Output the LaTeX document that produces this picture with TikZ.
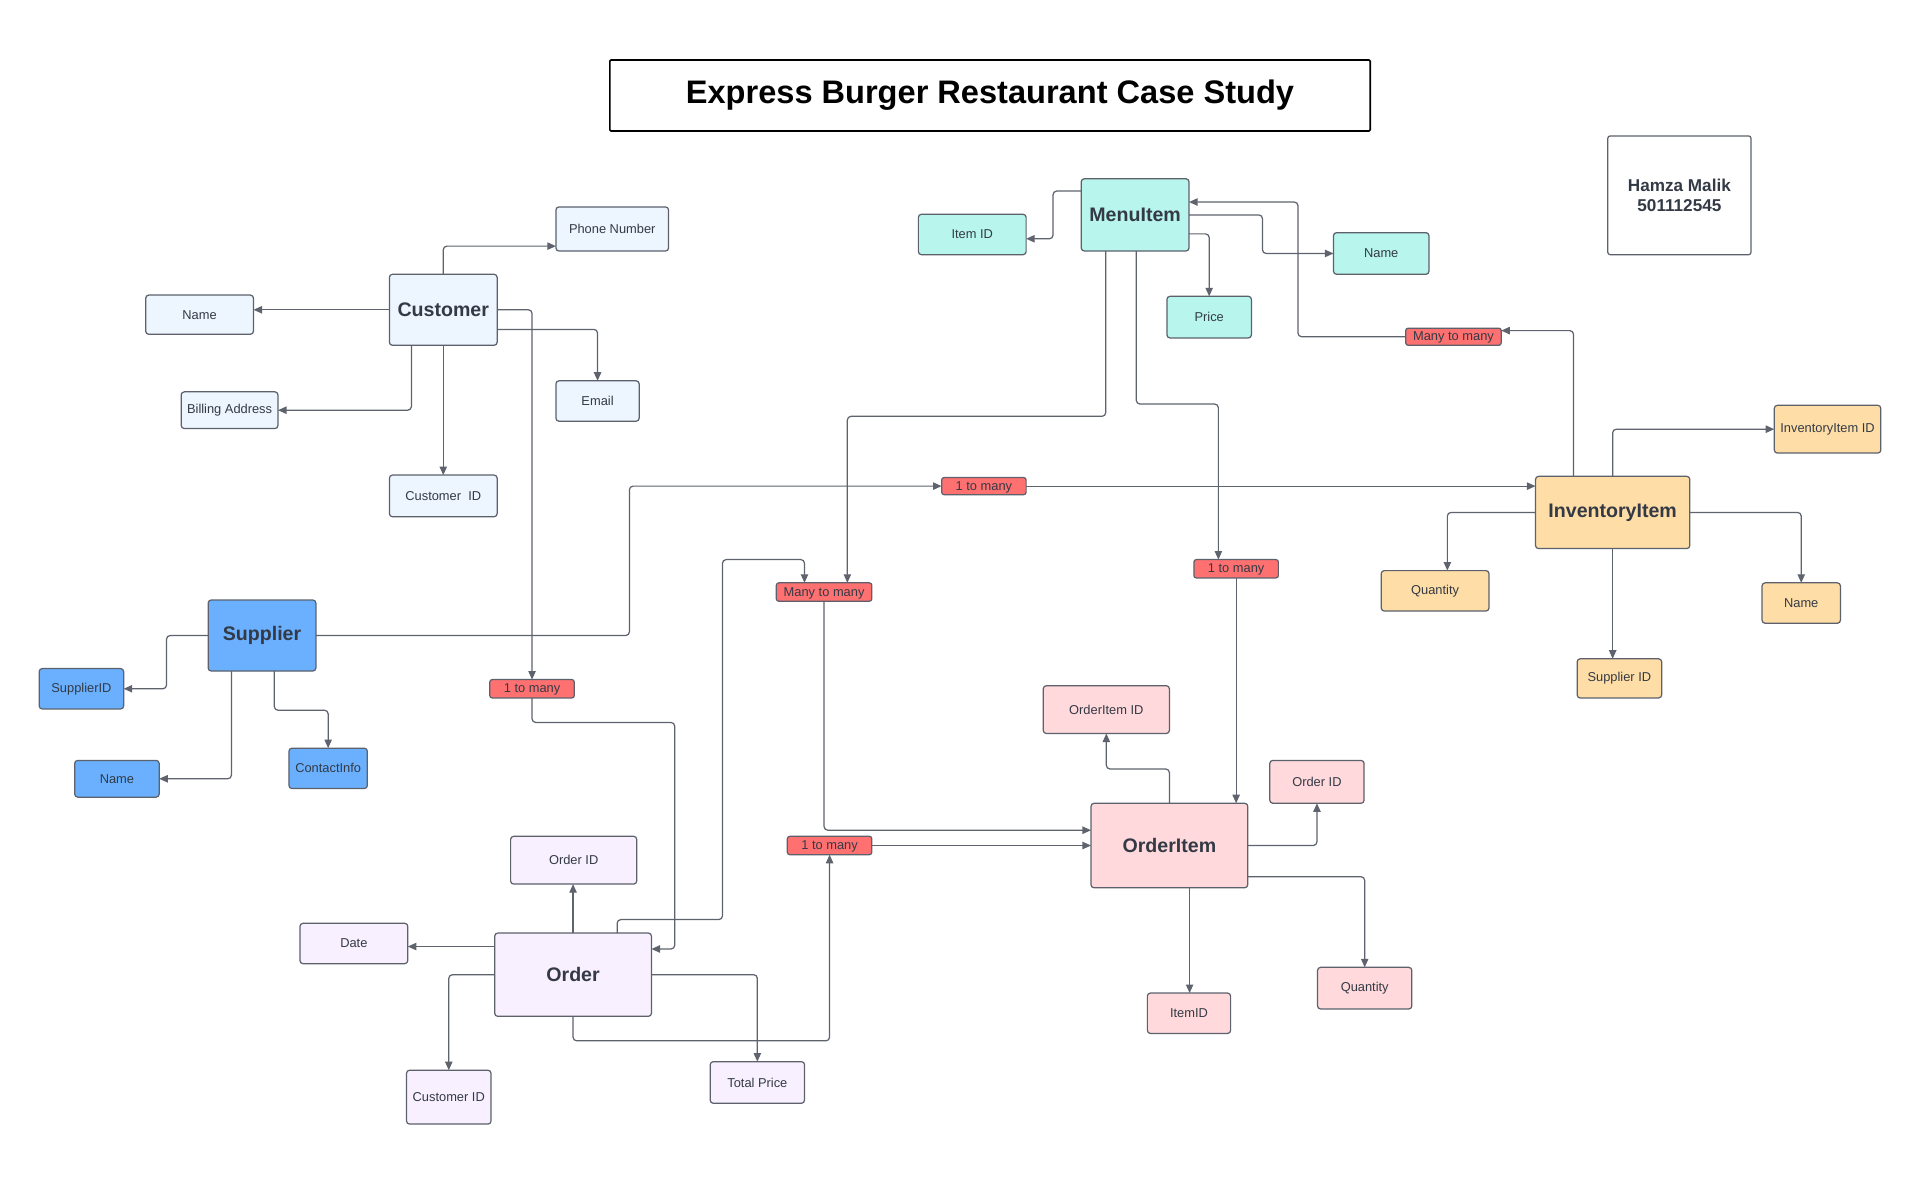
\documentclass[tikz,border=0pt]{standalone}
\usepackage{fontspec}
\setmainfont{Liberation Sans}
\usetikzlibrary{arrows.meta,calc}
\definecolor{txt}{HTML}{333A45}
\definecolor{bd}{HTML}{5C616C}
\definecolor{ln}{HTML}{5E636E}
\definecolor{cblue}{HTML}{EDF5FF}
\definecolor{mint}{HTML}{B8F5ED}
\definecolor{orng}{HTML}{FFDDA6}
\definecolor{sblue}{HTML}{6AB0FF}
\definecolor{pinkf}{HTML}{FFD9DC}
\definecolor{lav}{HTML}{F9F0FF}
\definecolor{relf}{HTML}{FF7070}
\tikzset{
 base/.style={draw=bd, line width=1pt, rounded corners=2.5pt, inner sep=0pt, outer sep=0pt, text=txt, align=center},
 attr/.style={base, font=\fontsize{10.5}{12.5}\selectfont},
 ent/.style={base, font=\fontsize{16}{19}\selectfont\bfseries},
 relbox/.style={base, fill=relf, font=\fontsize{10.5}{12}\selectfont, rounded corners=2pt, text height=7.6pt, text depth=0.8pt},
 conn/.style={draw=ln, line width=1pt, rounded corners=3pt, -{Triangle[length=7pt,width=6pt]}},
}
\newcommand\ebox[7]{\node[#6, minimum width={#4*1pt}, minimum height={#5*1pt}] (#1) at (#2,#3) {#7};}
\begin{document}
\begin{tikzpicture}[x=1pt,y=-1pt]
\useasboundingbox[fill=white] (0,0) rectangle (1568,973.5);
% title and author
\node[draw=black, line width=1.3pt, rounded corners=1pt, minimum width=621pt, minimum height=58pt, inner sep=0pt, font=\fontsize{26.6}{30}\selectfont\bfseries] (title) at (808.5,78) {Express Burger Restaurant Case Study};
\node[draw=bd, line width=1pt, rounded corners=2pt, minimum width=117pt, minimum height=97pt, inner sep=0pt, text=txt, align=center, font=\fontsize{14}{17}\selectfont\bfseries] (author) at (1371.5,159.5) {Hamza Malik\\501112545};
% Customer
\ebox{cust}{362}{253}{88}{58}{ent,fill=cblue}{Customer}
\ebox{phone}{500}{187}{92}{36}{attr,fill=cblue}{Phone Number}
\ebox{cname}{163}{257}{88}{32}{attr,fill=cblue}{Name}
\ebox{billing}{187.5}{335}{79}{30}{attr,fill=cblue}{Billing Address}
\ebox{email}{488}{327.5}{68}{33}{attr,fill=cblue}{Email}
\ebox{custid}{362}{405}{88}{34}{attr,fill=cblue}{Customer\ \ ID}
% MenuItem
\ebox{menu}{927}{175.5}{88}{59}{ent,fill=mint}{MenuItem}
\ebox{itemid}{794}{191.5}{88}{33}{attr,fill=mint}{Item ID}
\ebox{mname}{1128}{207}{78}{34}{attr,fill=mint}{Name}
\ebox{price}{987.5}{259}{69}{34}{attr,fill=mint}{Price}
% InventoryItem
\ebox{inv}{1317}{418.5}{126}{59}{ent,fill=orng}{InventoryItem}
\ebox{invid}{1492.5}{350.5}{87}{39}{attr,fill=orng}{InventoryItem ID}
\ebox{iqty}{1172}{482.5}{88}{33}{attr,fill=orng}{Quantity}
\ebox{iname}{1471}{492.5}{64}{33}{attr,fill=orng}{Name}
\ebox{isup}{1322.5}{554}{69}{32}{attr,fill=orng}{Supplier ID}
% Supplier
\ebox{sup}{214}{519}{88}{58}{ent,fill=sblue}{Supplier}
\ebox{supid}{66.5}{562.5}{69}{33}{attr,fill=sblue}{SupplierID}
\ebox{sname}{95.5}{636}{69}{30}{attr,fill=sblue}{Name}
\ebox{contact}{268}{627.5}{64}{33}{attr,fill=sblue}{ContactInfo}
% OrderItem
\ebox{oi}{955}{690.5}{128}{69}{ent,fill=pinkf}{OrderItem}
\ebox{oiid}{903.5}{579.5}{103}{39}{attr,fill=pinkf}{OrderItem ID}
\ebox{oiord}{1075.5}{638.5}{77}{35}{attr,fill=pinkf}{Order ID}
\ebox{oitem}{971}{827.5}{68}{33}{attr,fill=pinkf}{ItemID}
\ebox{oqty}{1114.5}{807}{77}{34}{attr,fill=pinkf}{Quantity}
% Order
\ebox{ord}{468}{796}{128}{68}{ent,fill=lav}{Order}
\ebox{oid}{468.5}{702.5}{103}{39}{attr,fill=lav}{Order ID}
\ebox{date}{289}{770.5}{88}{33}{attr,fill=lav}{Date}
\ebox{ocust}{366.5}{896}{69}{44}{attr,fill=lav}{Customer ID}
\ebox{total}{618.5}{884}{77}{34}{attr,fill=lav}{Total Price}
% relationship labels
\ebox{rmm1}{1187}{275}{78}{14}{relbox}{Many to many}
\ebox{rmid}{803.5}{397}{69}{14}{relbox}{1 to many}
\ebox{rright}{1009.5}{464.5}{69}{15}{relbox}{1 to many}
\ebox{rmm2}{673}{483.5}{78}{15}{relbox}{Many to many}
\ebox{rleft}{434.5}{562.5}{69}{15}{relbox}{1 to many}
\ebox{rbot}{677.5}{690.5}{69}{15}{relbox}{1 to many}
% Customer connectors
\draw[conn] (cust.north) |- ([yshift=-14pt]phone.west);
\draw[conn] (cust.west) -- (cust.west -| cname.east);
\draw[conn] ([xshift=-26pt]cust.south) |- (billing.east);
\draw[conn] (cust.south) -- (custid.north);
\draw[conn] ([yshift=-16pt]cust.east) -| (email.north);
\draw[conn] (cust.east) -| (rleft.north);
\draw[conn] (rleft.south) -- ++(0,20) -| ([xshift=19pt,yshift=21pt]ord.east) -- ([yshift=21pt]ord.east);
% MenuItem connectors
\draw[conn] ([yshift=19.5pt]menu.west) -- ++(-23,0) |- ([yshift=-3.5pt]itemid.east);
\draw[conn] (menu.east) -- ++(60,0) |- (mname.west);
\draw[conn] ([yshift=-15.5pt]menu.east) -| (price.north);
\draw[conn] ([xshift=-32pt]inv.north) |- ([yshift=5pt]rmm1.east);
\draw[conn] (rmm1.west) -- ++(-88,0) |- ([yshift=10.5pt]menu.east);
\draw[conn] ([xshift=-24pt]menu.south) -- ++(0,135) -| ([xshift=19pt]rmm2.north);
\draw[conn] ([xshift=36pt]ord.north) -- ++(0,-11) -- ++(86,0) |- ([xshift=-16pt,yshift=19pt]rmm2.north) -- ([xshift=-16pt]rmm2.north);
\draw[conn] (rmm2.south) |- ([yshift=12.5pt]oi.west);
\draw[conn] ([xshift=1pt]menu.south) -- ++(0,125) -| ([xshift=-14.5pt]rright.north);
\draw[conn] (rright.south) -- (rright.south |- oi.north);
% Supplier connectors
\draw[conn] (sup.east) -- ++(256,0) |- (rmid.west);
\draw[conn] (rmid.east) -- ([yshift=21.5pt]inv.west);
\draw[conn] (sup.west) -- ++(-34,0) |- (supid.east);
\draw[conn] ([xshift=-25pt]sup.south) |- (sname.east);
\draw[conn] ([xshift=10pt]sup.south) -- ++(0,32) -| (contact.north);
% InventoryItem connectors
\draw[conn] (inv.north) |- (invid.west);
\draw[conn] (inv.west) -| ([xshift=10pt]iqty.north);
\draw[conn] (inv.east) -| (iname.north);
\draw[conn] (inv.south) -- (inv.south |- isup.north);
% OrderItem connectors
\draw[conn] (oi.north) -- ++(0,-28) -| (oiid.south);
\draw[conn] (oi.east) -| (oiord.south);
\draw[conn] ([yshift=-25.5pt]oi.east) -| (oqty.north);
\draw[conn] ([xshift=16.5pt]oi.south) -- ([xshift=0.5pt]oitem.north);
\draw[conn] (rbot.east) -- (oi.west);
\draw[conn] (ord.south) -- ++(0,20) -| (rbot.south);
% Order connectors
\draw[conn] (ord.north) -- (ord.north |- oid.south);
\draw[conn] ([yshift=23pt]ord.west) -- ++(-71,0);
\draw[conn] (ord.west) -| (ocust.north);
\draw[conn] (ord.east) -| (total.north);
\end{tikzpicture}
\end{document}
